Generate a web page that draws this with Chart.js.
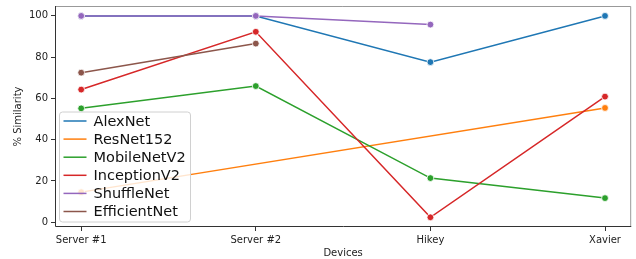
<!DOCTYPE html>
<html>
<head>
<meta charset="utf-8">
<script src="https://cdn.jsdelivr.net/npm/chart.js@4/dist/chart.umd.min.js"></script>
<style>
  html, body { margin: 0; padding: 0; background: #fff; overflow: hidden; }
  #wrap { width: 636px; height: 259px; overflow: hidden; }
  #simChart { display: block; margin-top: -3px; }
</style>
</head>
<body>
<div id="wrap"><canvas id="simChart" width="636" height="262"></canvas></div>
<script>
// --- data ---
var devices = ['Server #1', 'Server #2', 'Hikey', 'Xavier'];
var alexNet      = [100, 100, 77.6, 100];
var resNet152    = [14.6, null, null, 55.4];
var mobileNetV2  = [55.2, 66.0, 21.4, 11.7];
var inceptionV2  = [64.3, 92.3, 2.4, 60.9];
var shuffleNet   = [100, 100, 95.8, null];
var efficientNet = [72.5, 86.6, null, null];
var yTicks = [0, 20, 40, 60, 80, 100];

var seriesNames = ['AlexNet', 'ResNet152', 'MobileNetV2', 'InceptionV2', 'ShuffleNet', 'EfficientNet'];
var seriesData = [alexNet, resNet152, mobileNetV2, inceptionV2, shuffleNet, efficientNet];
var colors = ['#1f77b4', '#ff7f0e', '#2ca02c', '#d62728', '#9467bd', '#8c564b'];

var FONT = "'DejaVu Sans', sans-serif";

// legend box drawn inside the plot, like matplotlib
var innerLegend = {
    id: 'innerLegend',
    afterDraw: function (chart) {
        var ctx = chart.ctx;
        var area = chart.chartArea;
        var x0 = area.left + 4.5, y0 = 115, w = 131, h = 110;
        ctx.save();
        ctx.beginPath();
        ctx.roundRect(x0, y0, w, h, 3);
        ctx.fillStyle = 'rgba(255,255,255,0.8)';
        ctx.fill();
        ctx.strokeStyle = '#d0d0d0';
        ctx.lineWidth = 1;
        ctx.stroke();
        ctx.font = '14.5px ' + FONT;
        ctx.textBaseline = 'middle';
        for (var i = 0; i < seriesNames.length; i++) {
            var cy = y0 + 9 + i * 18.1;
            ctx.beginPath();
            ctx.moveTo(x0 + 4, cy);
            ctx.lineTo(x0 + 27, cy);
            ctx.strokeStyle = colors[i];
            ctx.lineWidth = 1.5;
            ctx.stroke();
            ctx.fillStyle = '#111';
            ctx.fillText(seriesNames[i], x0 + 34, cy + 1);
        }
        ctx.restore();
    }
};

// spines: dark left/bottom, lighter top/right
var spines = {
    id: 'spines',
    beforeDatasetsDraw: function (chart) {
        var ctx = chart.ctx, a = chart.chartArea;
        ctx.save();
        ctx.lineWidth = 1;
        ctx.strokeStyle = '#999';
        ctx.beginPath();
        ctx.moveTo(a.left, a.top + 0.5);
        ctx.lineTo(a.right - 0.5, a.top + 0.5);
        ctx.lineTo(a.right - 0.5, a.bottom);
        ctx.stroke();
        ctx.strokeStyle = '#333';
        ctx.beginPath();
        ctx.moveTo(a.left + 0.5, a.top);
        ctx.lineTo(a.left + 0.5, a.bottom - 0.5);
        ctx.lineTo(a.right, a.bottom - 0.5);
        ctx.stroke();
        ctx.restore();
    }
};

var datasets = seriesData.map(function (vals, i) {
    return {
        label: seriesNames[i],
        data: vals.map(function (v, j) { return { x: j, y: v }; }),
        borderColor: colors[i],
        backgroundColor: colors[i],
        pointBackgroundColor: colors[i],
        pointBorderColor: '#fff',
        pointBorderWidth: 0.8,
        pointRadius: 3.4,
        borderWidth: 1.5,
        spanGaps: true,
        tension: 0,
        order: seriesNames.length - i
    };
});

new Chart(document.getElementById('simChart').getContext('2d'), {
    type: 'line',
    data: { datasets: datasets },
    plugins: [spines, innerLegend],
    options: {
        responsive: false,
        animation: false,
        layout: { padding: { top: 0, right: 2, left: 0, bottom: 0 } },
        plugins: { legend: { display: false }, tooltip: { enabled: false } },
        scales: {
            x: {
                type: 'linear',
                min: -0.15,
                max: 3.15,
                afterBuildTicks: function (s) {
                    s.ticks = devices.map(function (d, i) { return { value: i }; });
                },
                afterFit: function (s) { s.height = 32; },
                ticks: {
                    autoSkip: false,
                    maxRotation: 0,
                    padding: 3,
                    color: '#222',
                    font: { family: FONT, size: 10 },
                    callback: function (v) { return devices[v]; }
                },
                grid: { drawOnChartArea: false, drawTicks: true, tickLength: 4, color: '#333' },
                border: { display: false },
                title: { display: true, text: 'Devices', color: '#222', font: { family: FONT, size: 10 }, padding: { top: 0, bottom: 0 } }
            },
            y: {
                min: -2.3,
                max: 104.8,
                afterBuildTicks: function (s) {
                    s.ticks = yTicks.map(function (v) { return { value: v }; });
                },
                afterFit: function (s) { s.width = 55; },
                ticks: {
                    padding: 3,
                    color: '#222',
                    font: { family: FONT, size: 10 }
                },
                grid: { drawOnChartArea: false, drawTicks: true, tickLength: 4, color: '#333' },
                border: { display: false },
                title: { display: true, text: '% Similarity', color: '#222', font: { family: FONT, size: 10 }, padding: { top: 12, bottom: 0 } }
            }
        }
    }
});
</script>
</body>
</html>
